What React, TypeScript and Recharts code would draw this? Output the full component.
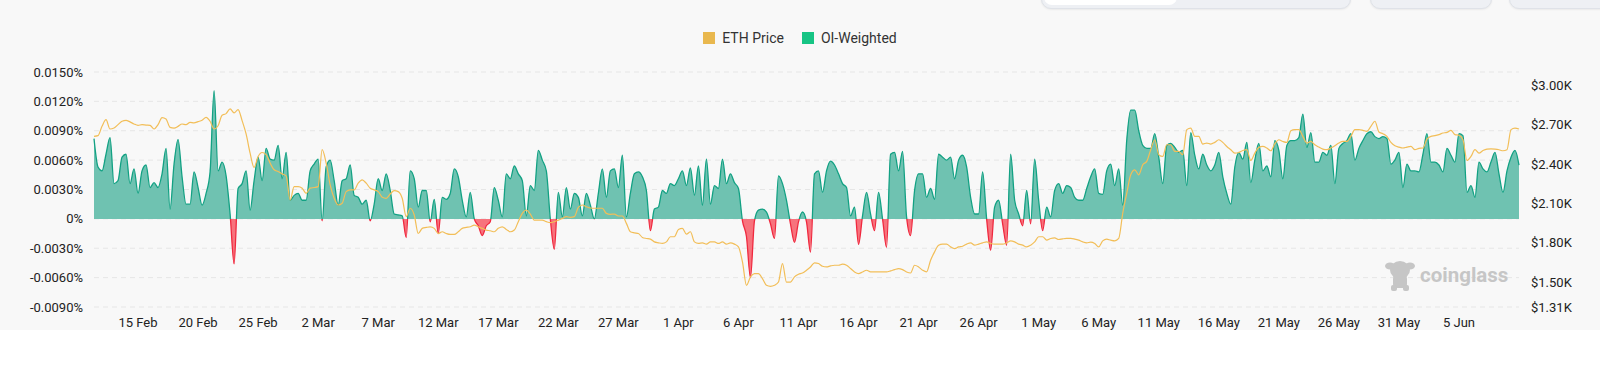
import { Area, CartesianGrid, ComposedChart, Line, XAxis, YAxis } from "recharts"

// 8h funding intervals, first one at 11 Feb 08:00 UTC
const startTime = Date.UTC(2025, 1, 11, 8)
const step = 8 * 3600 * 1000

// OI-weighted funding rate, in %
const fundingRate = [
  0.0082, 0.0053, 0.0049, 0.0066, 0.0083, 0.0036, 0.0039, 0.0063, 0.0066, 0.0036,
  0.0051, 0.0026, 0.0049, 0.0055, 0.0032, 0.0037, 0.0032, 0.0046, 0.0072, 0.0010,
  0.0056, 0.0081, 0.0043, 0.0015, 0.0015, 0.0048, 0.0032, 0.0014, 0.0026, 0.0048,
  0.0131, 0.0049, 0.0058, 0.0044, 0.0005, -0.0046, 0.0031, 0.0036, 0.0049, 0.0009,
  0.0039, 0.0063, 0.0039, 0.0072, 0.0061, 0.0060, 0.0075, 0.0041, 0.0068, 0.0019,
  0.0024, 0.0026, 0.0019, 0.0019, 0.0049, 0.0056, 0.0061, -0.0002, 0.0053, 0.0060,
  0.0039, 0.0014, 0.0039, 0.0041, 0.0055, 0.0024, 0.0022, 0.0015, 0.0019, -0.0002,
  0.0015, 0.0041, 0.0029, 0.0046, 0.0029, 0.0005, 0.0004, 0.0003, -0.0019, 0.0049,
  0.0041, 0.0012, 0.0029, 0.0029, -0.0003, 0.0020, -0.0015, 0.0022, 0.0020, 0.0026,
  0.0051, 0.0043, 0.0019, 0.0002, 0.0027, 0.0000, -0.0007, -0.0017, -0.0007, -0.0003,
  0.0032, 0.0019, 0.0002, 0.0046, 0.0041, 0.0054, 0.0046, 0.0039, 0.0003, 0.0034,
  0.0029, 0.0070, 0.0060, 0.0049, 0.0000, -0.0031, 0.0027, 0.0002, 0.0032, 0.0010,
  0.0026, 0.0022, 0.0003, 0.0026, 0.0014, 0.0000, 0.0026, 0.0051, 0.0022, 0.0049,
  0.0051, 0.0032, 0.0065, 0.0002, 0.0026, 0.0046, 0.0048, 0.0043, 0.0029, -0.0012,
  0.0010, 0.0012, 0.0029, 0.0026, 0.0036, 0.0034, 0.0041, 0.0049, 0.0034, 0.0052,
  0.0024, 0.0054, 0.0014, 0.0061, 0.0015, 0.0034, 0.0031, 0.0061, 0.0036, 0.0046,
  0.0037, 0.0031, -0.0002, -0.0018, -0.0060, -0.0002, 0.0009, 0.0010, 0.0007, -0.0005,
  -0.0020, 0.0044, 0.0036, 0.0019, -0.0005, -0.0024, -0.0003, 0.0007, -0.0003, -0.0034,
  0.0046, 0.0049, 0.0027, 0.0049, 0.0059, 0.0055, 0.0046, 0.0036, 0.0032, 0.0003,
  0.0012, -0.0026, 0.0003, 0.0027, 0.0005, -0.0012, 0.0027, 0.0000, -0.0029, 0.0066,
  0.0068, 0.0049, 0.0069, 0.0002, -0.0017, 0.0029, 0.0046, 0.0046, 0.0022, 0.0031,
  0.0020, 0.0066, 0.0063, 0.0060, 0.0063, 0.0041, 0.0060, 0.0065, 0.0053, 0.0022,
  0.0005, 0.0005, 0.0048, 0.0000, -0.0032, 0.0012, 0.0019, -0.0005, -0.0027, 0.0066,
  0.0019, 0.0005, -0.0007, 0.0029, -0.0005, 0.0061, 0.0019, -0.0012, 0.0012, 0.0002,
  0.0029, 0.0036, 0.0026, 0.0034, 0.0032, 0.0022, 0.0019, 0.0019, 0.0031, 0.0043,
  0.0051, 0.0026, 0.0025, 0.0049, 0.0056, 0.0034, 0.0051, 0.0014, 0.0080, 0.0111,
  0.0111, 0.0090, 0.0075, 0.0072, 0.0072, 0.0087, 0.0063, 0.0036, 0.0075, 0.0077,
  0.0073, 0.0068, 0.0070, 0.0034, 0.0088, 0.0065, 0.0051, 0.0066, 0.0055, 0.0049,
  0.0055, 0.0068, 0.0043, 0.0026, 0.0015, 0.0053, 0.0068, 0.0061, 0.0078, 0.0037,
  0.0060, 0.0077, 0.0049, 0.0054, 0.0043, 0.0080, 0.0070, 0.0041, 0.0075, 0.0080,
  0.0080, 0.0083, 0.0107, 0.0073, 0.0088, 0.0058, 0.0058, 0.0068, 0.0065, 0.0075,
  0.0036, 0.0072, 0.0077, 0.0080, 0.0087, 0.0060, 0.0072, 0.0080, 0.0087, 0.0089,
  0.0084, 0.0082, 0.0084, 0.0082, 0.0056, 0.0060, 0.0068, 0.0032, 0.0056, 0.0049,
  0.0049, 0.0048, 0.0066, 0.0087, 0.0058, 0.0058, 0.0055, 0.0048, 0.0072, 0.0065,
  0.0058, 0.0087, 0.0085, 0.0027, 0.0034, 0.0022, 0.0058, 0.0051, 0.0048, 0.0058,
  0.0068, 0.0046, 0.0027, 0.0049, 0.0063, 0.0070, 0.0055,
]

// ETH price in USD, same timestamps
const ethPrice = [
  2610, 2615, 2686, 2737, 2666, 2673, 2699, 2725, 2732, 2720,
  2704, 2694, 2699, 2696, 2694, 2666, 2699, 2753, 2742, 2678,
  2673, 2686, 2704, 2699, 2717, 2712, 2722, 2732, 2755, 2725,
  2666, 2691, 2770, 2783, 2819, 2788, 2814, 2730, 2628, 2482,
  2373, 2457, 2487, 2470, 2406, 2355, 2342, 2324, 2309, 2125,
  2227, 2227, 2215, 2176, 2215, 2220, 2227, 2508, 2406, 2240,
  2138, 2087, 2100, 2189, 2202, 2202, 2253, 2278, 2253, 2215,
  2202, 2189, 2146, 2138, 2171, 2197, 2189, 2138, 1998, 2062,
  2011, 1870, 1909, 1916, 1921, 1909, 1870, 1883, 1870, 1863,
  1863, 1883, 1909, 1916, 1921, 1934, 1921, 1909, 1896, 1891,
  1883, 1909, 1921, 1901, 1883, 1896, 1960, 2023, 2049, 2018,
  1972, 1972, 1972, 1960, 1952, 1960, 1972, 1985, 1998, 1993,
  1998, 2069, 2087, 2074, 2064, 2062, 2062, 2062, 2023, 2016,
  2018, 2003, 2003, 1947, 1883, 1875, 1870, 1840, 1832, 1827,
  1806, 1799, 1794, 1806, 1845, 1845, 1901, 1909, 1865, 1883,
  1806, 1794, 1799, 1789, 1806, 1806, 1794, 1806, 1789, 1799,
  1789, 1768, 1653, 1475, 1539, 1564, 1564, 1526, 1475, 1467,
  1475, 1500, 1641, 1500, 1500, 1539, 1559, 1569, 1590, 1615,
  1646, 1641, 1620, 1615, 1623, 1628, 1628, 1636, 1628, 1603,
  1577, 1564, 1577, 1590, 1577, 1577, 1577, 1577, 1577, 1585,
  1595, 1603, 1595, 1577, 1569, 1628, 1615, 1590, 1577, 1666,
  1730, 1781, 1789, 1789, 1768, 1755, 1768, 1773, 1789, 1799,
  1781, 1789, 1799, 1806, 1794, 1789, 1789, 1789, 1799, 1814,
  1806, 1789, 1781, 1768, 1781, 1806, 1845, 1845, 1819, 1832,
  1837, 1824, 1829, 1832, 1832, 1827, 1819, 1806, 1799, 1804,
  1794, 1768, 1814, 1827, 1819, 1814, 1832, 2023, 2176, 2317,
  2355, 2317, 2393, 2419, 2508, 2584, 2470, 2457, 2546, 2546,
  2495, 2495, 2470, 2661, 2673, 2610, 2610, 2551, 2559, 2551,
  2564, 2584, 2564, 2533, 2508, 2482, 2487, 2502, 2508, 2426,
  2482, 2526, 2533, 2521, 2500, 2554, 2584, 2571, 2564, 2653,
  2661, 2661, 2610, 2559, 2571, 2546, 2528, 2513, 2508, 2521,
  2538, 2559, 2571, 2571, 2610, 2661, 2661, 2656, 2648, 2686,
  2725, 2643, 2630, 2610, 2564, 2538, 2528, 2521, 2528, 2533,
  2508, 2518, 2521, 2589, 2610, 2615, 2623, 2635, 2640, 2656,
  2623, 2618, 2584, 2426, 2457, 2508, 2482, 2502, 2513, 2515,
  2513, 2508, 2500, 2508, 2661, 2673, 2666,
]

const tickDays = [
  "2025-02-15", "2025-02-20", "2025-02-25", "2025-03-02", "2025-03-07", "2025-03-12",
  "2025-03-17", "2025-03-22", "2025-03-27", "2025-04-01", "2025-04-06", "2025-04-11",
  "2025-04-16", "2025-04-21", "2025-04-26", "2025-05-01", "2025-05-06", "2025-05-11",
  "2025-05-16", "2025-05-21", "2025-05-26", "2025-05-31", "2025-06-05",
]
const tickLabels = [
  "15 Feb", "20 Feb", "25 Feb", "2 Mar", "7 Mar", "12 Mar",
  "17 Mar", "22 Mar", "27 Mar", "1 Apr", "6 Apr", "11 Apr",
  "16 Apr", "21 Apr", "26 Apr", "1 May", "6 May", "11 May",
  "16 May", "21 May", "26 May", "31 May", "5 Jun",
]

const rateTicks = [-0.009, -0.006, -0.003, 0, 0.003, 0.006, 0.009, 0.012, 0.015]
const priceTicks = [1310, 1500, 1800, 2100, 2400, 2700, 3000]

const data = fundingRate.map((rate, i) => ({
  time: startTime + i * step,
  rate,
  price: ethPrice[i],
}))
const xTicks = tickDays.map(d => Date.parse(d + "T00:00:00Z"))

// where 0 sits inside the area's bounding box, for the green/red split
const maxRate = Math.max(...fundingRate)
const minRate = Math.min(...fundingRate)
const zeroOffset = maxRate / (maxRate - minRate)

const font = "Roboto, 'Noto Sans', sans-serif"
const tickStyle = { fill: "#222", fontSize: 13, fontFamily: font }

const rateFormatter = (v: number) => (v === 0 ? "0%" : v.toFixed(4) + "%")
const priceFormatter = (v: number) => "$" + (v / 1000).toFixed(2) + "K"
const timeFormatter = (v: number) => tickLabels[xTicks.indexOf(v)] ?? ""

const legend = [
  { name: "ETH Price", color: "#E9B84E" },
  { name: "OI-Weighted", color: "#17C484" },
]

// the bottom edges of the page controls that sit above the chart
function TopButtons() {
  const box = {
    position: "absolute" as const,
    top: -22,
    height: 29,
    background: "#eef0f4",
    border: "1px solid #dfe2e8",
    borderRadius: 10,
    boxShadow: "0 1px 2px rgba(0,0,0,0.06)",
  }
  return (
    <>
      <div style={{ ...box, left: 1041, width: 308 }}>
        <div style={{ position: "absolute", left: 2, top: 0, width: 133, height: 26, background: "#fff", borderRadius: 8 }} />
      </div>
      <div style={{ ...box, left: 1370, width: 120 }} />
      <div style={{ ...box, left: 1509, width: 110 }} />
    </>
  )
}

function Watermark() {
  return (
    <div style={{ position: "absolute", left: 1385, top: 259, display: "flex", alignItems: "center", gap: 5 }}>
      <svg width="30" height="32" viewBox="0 0 30 32">
        <g fill="#c6c6c6">
          <ellipse cx="5" cy="7" rx="5" ry="3.5" />
          <ellipse cx="25" cy="7" rx="5" ry="3.5" />
          <ellipse cx="15" cy="11" rx="10" ry="9" />
          <rect x="8" y="16" width="14" height="13" rx="4" />
          <rect x="6" y="26" width="6" height="6" rx="2" />
          <rect x="18" y="26" width="6" height="6" rx="2" />
        </g>
      </svg>
      <span style={{ fontFamily: font, fontWeight: 700, fontSize: 20.5, color: "#c6c6c6" }}>coinglass</span>
    </div>
  )
}

export default function App() {
  return (
    <div style={{ position: "absolute", left: 0, top: 0, width: 1600, height: 378, background: "#fff", overflow: "hidden" }}>
      <div style={{ position: "absolute", left: 0, top: 0, width: 1600, height: 330, background: "#f8f8f8" }}>
        <TopButtons />
        <div
          style={{
            position: "absolute",
            top: 30,
            left: 0,
            width: 1600,
            display: "flex",
            justifyContent: "center",
            gap: 18,
            fontFamily: font,
            fontSize: 14,
            color: "#333",
          }}
        >
          {legend.map(item => (
            <div key={item.name} style={{ display: "flex", alignItems: "center", gap: 7 }}>
              <span style={{ display: "inline-block", width: 12, height: 12, background: item.color }} />
              <span>{item.name}</span>
            </div>
          ))}
        </div>
        <ComposedChart width={1600} height={330} data={data} margin={{ top: 72, right: 0, bottom: 0, left: 0 }}>
          <defs>
            <linearGradient id="rateFill" x1="0" y1="0" x2="0" y2="1">
              <stop offset={zeroOffset} stopColor="#6fc2b1" />
              <stop offset={zeroOffset} stopColor="#f7737d" />
            </linearGradient>
            <linearGradient id="rateStroke" x1="0" y1="0" x2="0" y2="1">
              <stop offset={zeroOffset} stopColor="#12a183" />
              <stop offset={zeroOffset} stopColor="#f0283e" />
            </linearGradient>
          </defs>
          <CartesianGrid yAxisId="left" vertical={false} stroke="#e6e6e6" strokeDasharray="5 4" />
          <XAxis
            dataKey="time"
            type="number"
            domain={["dataMin", "dataMax"]}
            ticks={xTicks}
            interval={0}
            tickFormatter={timeFormatter}
            axisLine={false}
            tickLine={false}
            tickMargin={5}
            height={23}
            tick={tickStyle}
          />
          <YAxis
            yAxisId="left"
            orientation="left"
            width={94}
            domain={[-0.009, 0.015]}
            ticks={rateTicks}
            interval={0}
            tickFormatter={rateFormatter}
            axisLine={false}
            tickLine={false}
            tickMargin={5}
            tick={tickStyle}
          />
          <YAxis
            yAxisId="right"
            orientation="right"
            width={81}
            domain={[1310, 3100]}
            ticks={priceTicks}
            interval={0}
            tickFormatter={priceFormatter}
            axisLine={false}
            tickLine={false}
            tickMargin={6}
            tick={tickStyle}
          />
          <Area
            yAxisId="left"
            type="monotone"
            dataKey="rate"
            name="OI-Weighted"
            baseValue={0}
            stroke="url(#rateStroke)"
            strokeWidth={1.3}
            fill="url(#rateFill)"
            fillOpacity={1}
            dot={false}
            activeDot={false}
            isAnimationActive={false}
          />
          <Line
            yAxisId="right"
            type="monotone"
            dataKey="price"
            name="ETH Price"
            stroke="#f2be58"
            strokeWidth={1.2}
            dot={false}
            activeDot={false}
            isAnimationActive={false}
          />
        </ComposedChart>
        <Watermark />
      </div>
    </div>
  )
}
